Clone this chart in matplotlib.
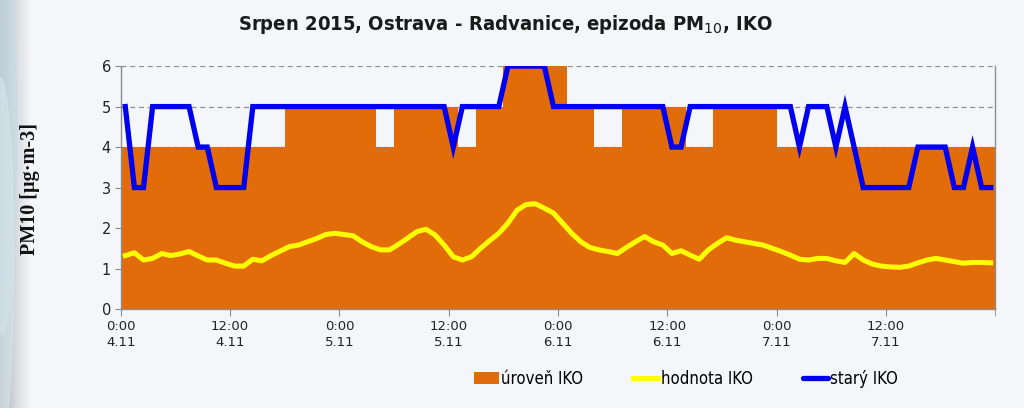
import numpy as np
import matplotlib
matplotlib.use("Agg")
import matplotlib.pyplot as plt
from matplotlib.patches import Patch, Circle
from matplotlib.lines import Line2D
from matplotlib.font_manager import FontProperties

# ---------------- data ----------------
hours = np.arange(96)
tick_labels = ["0:00\n4.11", "12:00\n4.11", "0:00\n5.11", "12:00\n5.11",
               "0:00\n6.11", "12:00\n6.11", "0:00\n7.11", "12:00\n7.11"]

uroven_iko = ([4] * 18 + [5] * 10 + [4] * 2 + [5] * 7 + [4] * 2 + [5] * 3 +
              [6] * 7 + [5] * 3 + [4] * 3 + [5] * 7 + [4] * 3 + [5] * 7 + [4] * 24)

stary_iko = ([5, 3, 3, 5, 5, 5, 5, 5, 4, 4, 3, 3, 3, 3] + [5] * 22 + [4] + [5] * 5 +
             [6] * 5 + [5] * 13 + [4] * 2 + [5] * 12 + [4] + [5] * 3 + [4] + [5] +
             [4] + [3] * 6 + [4] * 4 + [3] * 2 + [4] + [3] * 2)

hodnota_iko = [1.32, 1.39, 1.21, 1.25, 1.37, 1.32, 1.36, 1.42, 1.31, 1.21, 1.21, 1.13, 1.06, 1.06, 1.23, 1.19,
               1.32, 1.43, 1.54, 1.58, 1.66, 1.74, 1.84, 1.87, 1.84, 1.81, 1.66, 1.54, 1.46, 1.46, 1.60, 1.75,
               1.91, 1.97, 1.83, 1.58, 1.29, 1.21, 1.29, 1.50, 1.69, 1.87, 2.12, 2.44, 2.58, 2.60, 2.49, 2.37,
               2.12, 1.87, 1.66, 1.52, 1.46, 1.42, 1.37, 1.52, 1.66, 1.79, 1.66, 1.58, 1.37, 1.44, 1.33, 1.23,
               1.46, 1.62, 1.76, 1.70, 1.66, 1.62, 1.58, 1.50, 1.42, 1.33, 1.23, 1.21, 1.25, 1.25, 1.19, 1.15,
               1.37, 1.21, 1.11, 1.06, 1.04, 1.03, 1.06, 1.14, 1.21, 1.25, 1.21, 1.17, 1.13, 1.15, 1.15, 1.14]

# ---------------- style ----------------
BG = "#F4F6F9"
ORANGE = "#E36C0A"
BLUE = "#0000F0"
YELLOW = "#FFFF00"

fig = plt.figure(figsize=(10.24, 4.08), dpi=100, facecolor=BG)

# left decorative gradient strip
deco = fig.add_axes([0, 0, 0.03, 1])
grad = np.linspace(0, 1, 64)[None, :]
deco.imshow(grad, aspect="auto", cmap=matplotlib.colors.LinearSegmentedColormap.from_list(
    "g", ["#A9AEB4", "#D6D9DD", BG]), extent=[0, 1, 0, 1])
deco.set_xlim(0, 1)
deco.set_ylim(0, 1)
deco.add_patch(Circle((0.05, 0.68), 0.5, transform=deco.transData, color="#C9DCE6", alpha=0.7, clip_on=True))
deco.add_patch(Circle((0.0, 0.36), 0.45, transform=deco.transData, color="#D5E3EA", alpha=0.7, clip_on=True))
deco.axis("off")

ax = fig.add_axes([0.1179, 0.2426, 0.9720 - 0.1179, 0.838 - 0.2426])
ax.set_facecolor(BG)

ax.bar(hours, uroven_iko, width=1.0, align="edge", color=ORANGE, zorder=2, linewidth=0)
ax.plot(hours + 0.5, hodnota_iko, color=YELLOW, lw=3.6, zorder=3, solid_joinstyle="round")
ax.plot(hours + 0.5, stary_iko, color=BLUE, lw=3.8, zorder=4, solid_joinstyle="miter")

ax.set_xlim(0, 96)
ax.set_ylim(0, 6)
ax.set_yticks(range(0, 7))
ax.set_xticks(np.arange(0, 96, 12))
ax.set_xticks([96], minor=True)
ax.set_xticklabels(tick_labels, fontsize=9.5, color="#222222", linespacing=1.25)
ax.tick_params(axis="x", which="both", length=5, color="#8C8C8C", pad=3)
ax.tick_params(axis="y", length=4, color="#8C8C8C", labelsize=10.5, labelcolor="#222222", pad=3)

ax.yaxis.grid(True, linestyle=(0, (4, 3)), color="#8F8F8F", lw=0.9, zorder=1)
ax.set_axisbelow(True)
for s in ["left", "bottom", "right"]:
    ax.spines[s].set_color("#8C8C8C")
    ax.spines[s].set_linewidth(1.0)
ax.spines["top"].set_visible(False)

fig.text(30 / 1024, 1 - 189 / 408, "PM10 [µg·m-3]", rotation=90, ha="center", va="center",
         fontsize=14.5, fontweight="bold", family=["Liberation Serif", "DejaVu Serif"], color="#111111")

title_fp = FontProperties(family="DejaVu Sans", stretch="condensed", weight="bold", size=14.5)
fig.text(0.494, 0.94, "Srpen 2015, Ostrava - Radvanice, epizoda PM$_{10}$, IKO",
         ha="center", va="center", fontproperties=title_fp, color="#1A1A1A")

handles = [Patch(facecolor=ORANGE, edgecolor="none"),
           Line2D([], [], color=YELLOW, lw=3.6),
           Line2D([], [], color=BLUE, lw=3.8, solid_capstyle="round")]
labels = ["úroveň IKO", "hodnota IKO", "starý IKO"]
leg_fp = FontProperties(family="DejaVu Sans", stretch="condensed", size=12)
fig.legend(handles, labels, loc="center", bbox_to_anchor=(0.670, 0.071), ncol=3,
           frameon=False, handlelength=1.5, handleheight=0.7,
           handletextpad=0.15, columnspacing=3.0, prop=leg_fp)

fig.savefig("out.png", dpi=100, facecolor=BG)
